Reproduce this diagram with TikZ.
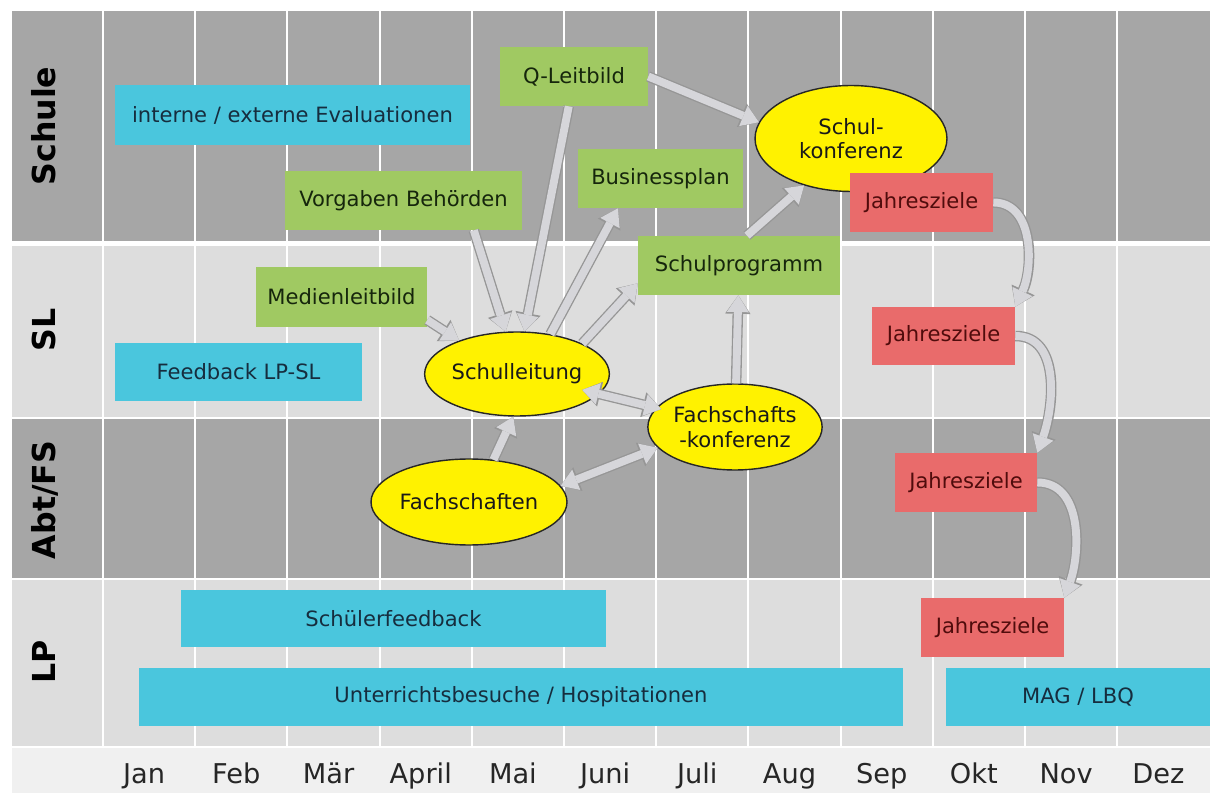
\documentclass[tikz,border=0pt]{standalone}
\usepackage{fontspec}
\setmainfont{DejaVu Sans}
\usetikzlibrary{shapes.geometric,arrows.meta}

\definecolor{rowdark}{RGB}{166,166,166}
\definecolor{rowlight}{RGB}{221,221,221}
\definecolor{monthrow}{RGB}{240,240,240}
\definecolor{cyanfill}{RGB}{74,198,221}
\definecolor{greenfill}{RGB}{160,201,98}
\definecolor{redfill}{RGB}{233,107,107}
\definecolor{cyantext}{RGB}{22,45,62}
\definecolor{greentext}{RGB}{22,38,12}
\definecolor{redtext}{RGB}{80,12,12}
\definecolor{arrowfill}{RGB}{214,214,218}
\definecolor{arrowedge}{RGB}{150,150,150}

\begin{document}
\begin{tikzpicture}[x=0.02cm,y=-0.02cm,
  >={Triangle[length=9.5pt,width=12.5pt,line width=0pt]},
  box/.style={rectangle,inner sep=0pt,font=\fontsize{12}{14}\selectfont},
  cyanbar/.style={box,fill=cyanfill,text=cyantext},
  greenbar/.style={box,fill=greenfill,text=greentext},
  redbar/.style={box,fill=redfill,text=redtext},
  bubble/.style={ellipse,draw=black!85,line width=0.8pt,fill=yellow,inner sep=0pt,
    align=center,text=black!90,font=\fontsize{12}{14}\selectfont},
  flow/.style={->,line width=4.5pt,draw=arrowfill,
    preaction={draw=arrowedge,line width=6pt,-{Triangle[length=10.5pt,width=14.5pt,line width=0pt]}}},
  biflow/.style={<->,line width=4.5pt,draw=arrowfill,
    preaction={draw=arrowedge,line width=6pt,
      {Triangle[length=10.5pt,width=14.5pt,line width=0pt]}-{Triangle[length=10.5pt,width=14.5pt,line width=0pt]}}},
  lane/.style={rotate=90,anchor=base,font=\fontsize{18}{20}\selectfont\bfseries},
  month/.style={anchor=base,font=\fontsize{15.5}{18}\selectfont,text=black!85}
]
\useasboundingbox (0,0) rectangle (1210,793);

% lanes
\fill[rowdark]  (12,11)  rectangle (1210,241);
\fill[rowlight] (12,246) rectangle (1210,417);
\fill[rowdark]  (12,419) rectangle (1210,578);
\fill[rowlight] (12,580) rectangle (1210,746);
\fill[monthrow] (12,748) rectangle (1210,793);
\foreach \k in {0,...,11}
  \draw[white,line width=1.2pt] ({103+92.2*\k},11) -- ({103+92.2*\k},746);

\node[lane] (lschule) at (55,126) {Schule};
\node[lane] (lsl)     at (55,330) {SL};
\node[lane] (lfs)     at (55,500) {Abt/FS};
\node[lane] (llp)     at (55,662) {LP};

\foreach \m [count=\i] in {Jan,Feb,Mär,April,Mai,Juni,Juli,Aug,Sep,Okt,Nov,Dez}
  \node[month] (m\i) at ({103+92.2*(\i-0.5)-5},783) {\m};

% bars and boxes
\node[cyanbar,minimum width=7.1cm,minimum height=1.2cm] (eval) at (292.5,115) {interne / externe Evaluationen};
\node[greenbar,minimum width=4.74cm,minimum height=1.18cm] (vorgaben) at (403.5,200.5) {Vorgaben Behörden};
\node[greenbar,minimum width=2.96cm,minimum height=1.18cm] (qleit) at (574,76.5) {Q-Leitbild};
\node[greenbar,minimum width=3.3cm,minimum height=1.18cm] (business) at (660.5,178.5) {Businessplan};
\node[greenbar,minimum width=4.04cm,minimum height=1.18cm] (schulprog) at (739,265.5) {Schulprogramm};
\node[greenbar,minimum width=3.42cm,minimum height=1.2cm] (medien) at (341.5,297) {Medienleitbild};
\node[cyanbar,minimum width=4.94cm,minimum height=1.16cm] (feedback) at (238.5,372) {Feedback LP-SL};
\node[cyanbar,minimum width=8.5cm,minimum height=1.14cm] (schueler) at (393.5,618.5) {Schülerfeedback};
\node[cyanbar,minimum width=15.3cm,minimum height=1.18cm] (ub) at (521,697) {Unterrichtsbesuche / Hospitationen};
\node[cyanbar,minimum width=5.28cm,minimum height=1.18cm] (mag) at (1078,697) {MAG / LBQ};

% bodies
\node[bubble,minimum width=3.6cm,minimum height=1.68cm] (sl) at (517,374) {Schulleitung};
\node[bubble,minimum width=3.0cm,minimum height=1.72cm] (fsk) at (735,427) {Fachschafts\\-konferenz};
\node[bubble,minimum width=3.76cm,minimum height=1.72cm] (fs) at (469,502) {Fachschaften};
\node[bubble,minimum width=3.84cm,minimum height=2.12cm] (skonf) at (851,138.5) {Schul-\\konferenz};

% goals
\node[redbar,minimum width=2.86cm,minimum height=1.18cm] (jz1) at (921.5,202.5) {Jahresziele};
\node[redbar,minimum width=2.86cm,minimum height=1.16cm] (jz2) at (943.5,336) {Jahresziele};
\node[redbar,minimum width=2.84cm,minimum height=1.18cm] (jz3) at (966,482.5) {Jahresziele};
\node[redbar,minimum width=2.86cm,minimum height=1.18cm] (jz4) at (992.5,627.5) {Jahresziele};

% arrows
\draw[flow] (qleit.east) -- (skonf.170);
\draw[flow] (qleit.-100) -- (sl.80);
\draw[flow] (vorgaben.-23) -- (sl.105);
\draw[flow] (medien.-15) -- (sl.150);
\draw[flow] (sl.50) -- (business.-145);
\draw[flow] (sl.25) -- (schulprog.-170);
\draw[biflow,shorten <=-10pt,shorten >=-3pt] (sl) -- (fsk);
\draw[flow] (fs.60) -- (sl.-95);
\draw[biflow] (fs.10) -- (fsk.-165);
\draw[flow] (fsk) -- (schulprog);
\draw[flow] (schulprog.75) -- (skonf.-135);
\draw[flow] (jz1.east) to[out=0,in=65] (jz2.north east);
\draw[flow] (jz2.east) to[out=0,in=70] (jz3.north east);
\draw[flow] (jz3.east) to[out=0,in=70] (jz4.north east);
\end{tikzpicture}
\end{document}
